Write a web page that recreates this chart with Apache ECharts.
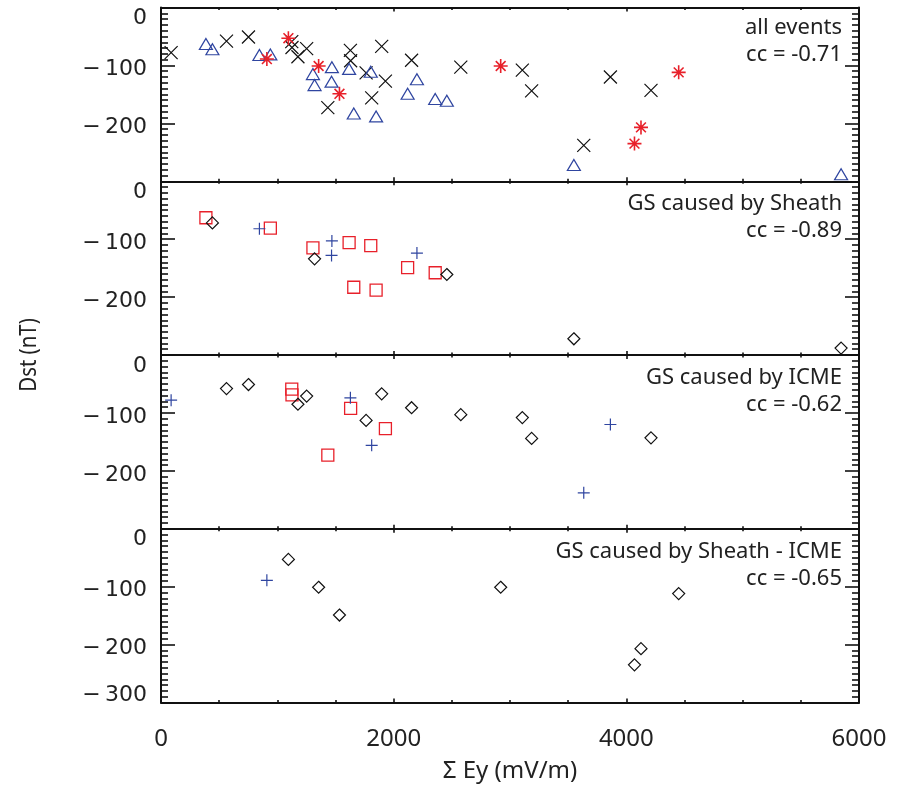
<!DOCTYPE html>
<html>
<head>
<meta charset="utf-8">
<script src="https://cdn.jsdelivr.net/npm/echarts@6/dist/echarts.min.js"></script>
<style>
html,body{margin:0;padding:0;background:#fff;}
#chart{width:899px;height:794px;}
</style>
</head>
<body>
<div id="chart"></div>
<script>
// ---- Data (Sigma Ey in mV/m, Dst in nT) ----
// Panel 2: GS caused by Sheath
const sheathSqX   = [386, 940, 1306, 1617, 1803, 1657, 1849, 2120, 2357];
const sheathSqY   = [-63, -81, -115, -106, -111, -183, -188, -149, -158];
const sheathDiaX  = [442, 1320, 2457, 3549, 5846];
const sheathDiaY  = [-72, -134, -161, -272, -288];
const sheathPlusX = [846, 1469, 1466, 2200];
const sheathPlusY = [-82, -103, -128, -124];
// Panel 3: GS caused by ICME
const icmeDiaX  = [563, 752, 1177, 1252, 1763, 1897, 2154, 2577, 3106, 3186, 4212];
const icmeDiaY  = [-58, -51, -85, -71, -113, -67, -91, -103, -108, -144, -143];
const icmePlusX = [87, 1628, 1811, 3634, 3863];
const icmePlusY = [-78, -74, -156, -238, -120];
const icmeSqX   = [1124, 1126, 1630, 1929, 1434];
const icmeSqY   = [-59, -69, -92, -127, -173];
// Panel 4: GS caused by Sheath - ICME
const shiDiaX  = [1095, 1355, 1534, 2920, 4450, 4126, 4070];
const shiDiaY  = [-53, -101, -149, -101, -112, -207, -235];
const shiPlusX = [910];
const shiPlusY = [-89];

const panelTitles = ['all events', 'GS caused by Sheath', 'GS caused by ICME', 'GS caused by Sheath - ICME'];
const panelCC = ['cc = -0.71', 'cc = -0.89', 'cc = -0.62', 'cc = -0.65'];
const xTicks = [0, 2000, 4000, 6000];
const yTicks = [0, -100, -200, -300];

const zip = (xs, ys) => xs.map((x, i) => [x, ys[i]]);

const RED = '#e8202a', BLUE = '#2f45a0', BLACK = '#111';
const SYM_X = 'path://M0,0L10,10M0,10L10,0';
const SYM_PLUS = 'path://M5,0L5,10M0,5L10,5';
const SYM_AST = 'path://M5,0L5,10M0,5L10,5M1.5,1.5L8.5,8.5M1.5,8.5L8.5,1.5';

const GL = 161, GR = 40, GTOP = 7.5, GH = 173.75;
const grids = [], xAxes = [], yAxes = [];
const yFont = 'DejaVu Sans';
const xFont = '"Noto Sans", sans-serif';
for (let g = 0; g < 4; g++) {
  grids.push({left: GL, right: GR, top: GTOP + g * GH, height: GH, containLabel: false});
  const isLast = g === 3;
  const xBase = {
    type: 'value', gridIndex: g, min: xTicks[0], max: xTicks[xTicks.length - 1], interval: 2000,
    splitLine: {show: false},
    axisLine: {show: true, onZero: false, lineStyle: {color: '#111', width: 2}},
    axisTick: {show: true, inside: true, length: 4, lineStyle: {color: '#111', width: 1.6}},
    minorTick: {show: true, splitNumber: 4, length: 2.5, lineStyle: {color: '#111', width: 1.6}},
    minorSplitLine: {show: false}
  };
  xAxes.push(Object.assign({}, xBase, {
    position: 'bottom',
    axisLabel: {show: isLast, margin: 25, fontFamily: xFont, fontSize: 24, color: '#222',
      formatter: (v) => String(v)},
    name: isLast ? 'Σ Ey (mV/m)' : '', nameLocation: 'middle', nameGap: 57,
    nameTextStyle: {fontFamily: xFont, fontSize: 24, color: '#222'}
  }));
  xAxes.push(Object.assign({}, xBase, {position: 'top', axisLabel: {show: false}}));
  const yBase = {
    type: 'value', gridIndex: g, min: -300, max: 0, interval: 100,
    splitLine: {show: false},
    axisLine: {show: true, onZero: false, lineStyle: {color: '#111', width: 2}},
    axisTick: {show: true, inside: true, length: 14, lineStyle: {color: '#111', width: 1.6}},
    minorTick: {show: true, splitNumber: 10, length: 7, lineStyle: {color: '#111', width: 1.6}},
    minorSplitLine: {show: false}
  };
  const rs = (pad) => ({fontFamily: yFont, fontSize: 22, color: '#222', padding: pad});
  yAxes.push(Object.assign({}, yBase, {
    position: 'left',
    axisLabel: {
      show: true, margin: 14, fontFamily: yFont, fontSize: 22, color: '#222',
      formatter: (v) => {
        if (v === 0) return '{z|0}';
        if (v === -300) return isLast ? '{b|\u2212\u2009300}' : '';
        return '{n|\u2212\u2009' + Math.abs(v) + '}';
      },
      rich: {z: rs([22, 0, 0, 0]), n: rs([8, 0, 0, 0]), b: rs([0, 0, 14, 0])}
    }
  }));
  yAxes.push(Object.assign({}, yBase, {position: 'right', axisLabel: {show: false}}));
}

function sc(g, data, symbol, size, color, bw) {
  return {
    type: 'scatter', xAxisIndex: 2 * g, yAxisIndex: 2 * g, data: data,
    symbol: symbol, symbolSize: size, silent: true,
    itemStyle: {color: 'rgba(0,0,0,0)', borderColor: color, borderWidth: bw, opacity: 1}
  };
}

const icmeAll = zip(icmeDiaX, icmeDiaY).concat(zip(icmePlusX, icmePlusY), zip(icmeSqX, icmeSqY));
const sheathAll = zip(sheathSqX, sheathSqY).concat(zip(sheathDiaX, sheathDiaY), zip(sheathPlusX, sheathPlusY));
const shiAll = zip(shiDiaX, shiDiaY).concat(zip(shiPlusX, shiPlusY));

const series = [
  sc(0, icmeAll, SYM_X, 13, BLACK, 1.2),
  sc(0, sheathAll, 'triangle', [13, 11], BLUE, 1.2),
  sc(0, shiAll, SYM_AST, 14, RED, 1.6),
  sc(1, zip(sheathSqX, sheathSqY), 'rect', 12, RED, 1.3),
  sc(1, zip(sheathDiaX, sheathDiaY), 'diamond', 12, BLACK, 1.2),
  sc(1, zip(sheathPlusX, sheathPlusY), SYM_PLUS, 12, BLUE, 1.2),
  sc(2, zip(icmeSqX, icmeSqY), 'rect', 12, RED, 1.3),
  sc(2, zip(icmeDiaX, icmeDiaY), 'diamond', 12, BLACK, 1.2),
  sc(2, zip(icmePlusX, icmePlusY), SYM_PLUS, 12, BLUE, 1.2),
  sc(3, zip(shiDiaX, shiDiaY), 'diamond', 12, BLACK, 1.2),
  sc(3, zip(shiPlusX, shiPlusY), SYM_PLUS, 12, BLUE, 1.2)
];

const txtFont = '22px "Noto Sans", "Open Sans", sans-serif';
const line1Off = [20, 22, 23, 23];
const line2Off = [47, 49, 50, 50];
const graphic = [];
for (let g = 0; g < 4; g++) {
  const top = GTOP + g * GH;
  graphic.push({type: 'text', x: 842, y: top + line1Off[g], silent: true,
    style: {text: panelTitles[g], font: txtFont, fill: '#222', align: 'right', verticalAlign: 'middle'}});
  graphic.push({type: 'text', x: 842, y: top + line2Off[g], silent: true,
    style: {text: panelCC[g], font: txtFont, fill: '#222', align: 'right', verticalAlign: 'middle'}});
}
graphic.push({type: 'text', x: 29, y: 355, rotation: Math.PI / 2, scaleX: 0.85, silent: true,
  style: {text: 'Dst (nT)', font: '24px "Noto Sans", sans-serif', fill: '#222', align: 'center', verticalAlign: 'middle'}});

const chart = echarts.init(document.getElementById('chart'), null, {renderer: 'canvas'});
chart.setOption({
  animation: false,
  backgroundColor: '#fff',
  grid: grids, xAxis: xAxes, yAxis: yAxes,
  series: series,
  graphic: graphic
});
</script>
</body>
</html>
